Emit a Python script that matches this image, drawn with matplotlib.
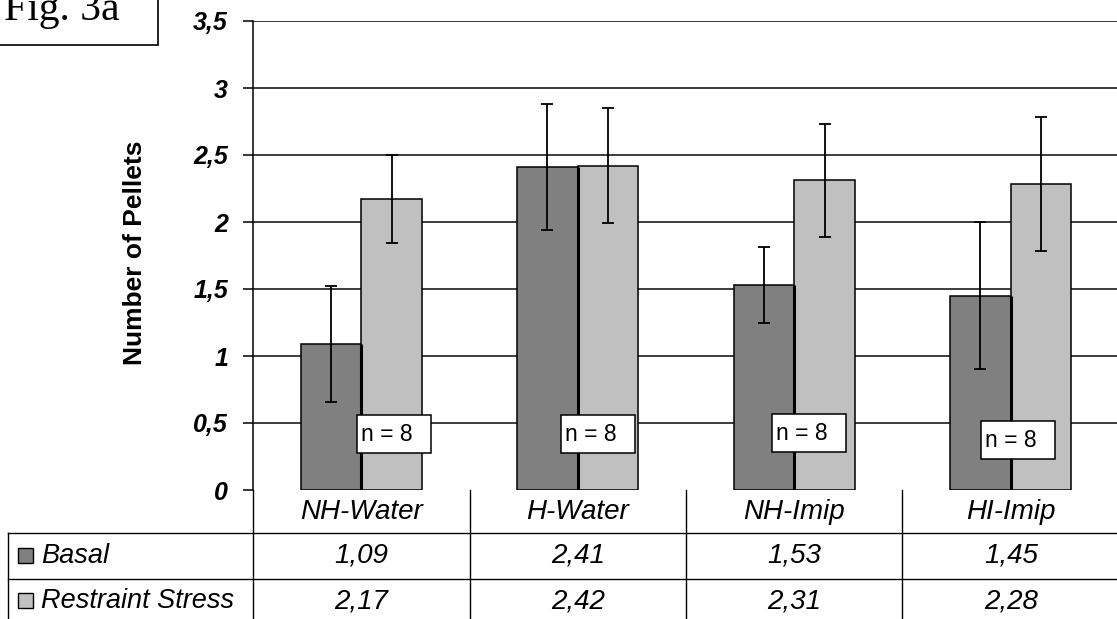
import matplotlib
matplotlib.use("Agg")
import matplotlib.pyplot as plt
from matplotlib.patches import Rectangle
from matplotlib.transforms import blended_transform_factory
import numpy as np

categories = ["NH-Water", "H-Water", "NH-Imip", "HI-Imip"]
series_names = ["Basal", "Restraint Stress"]
basal = [1.09, 2.41, 1.53, 1.45]
restraint = [2.17, 2.42, 2.31, 2.28]
basal_err = [0.43, 0.47, 0.28, 0.55]
restraint_err = [0.33, 0.43, 0.42, 0.50]
n_labels = ["n = 8", "n = 8", "n = 8", "n = 8"]
yticks = [0, 0.5, 1, 1.5, 2, 2.5, 3, 3.5]
ytick_labels = ["0", "0,5", "1", "1,5", "2", "2,5", "3", "3,5"]
basal_labels = ["1,09", "2,41", "1,53", "1,45"]
restraint_labels = ["2,17", "2,42", "2,31", "2,28"]

# annotation box placement (relative to category centre), layout only
nbox_dx = [-0.018, -0.077, -0.104, -0.137]
nbox_y = [0.275, 0.275, 0.282, 0.230]

colors = ["#808080", "#c0c0c0"]
W, H = 1117, 619
plt.rcParams['font.family'] = ['Liberation Sans', 'DejaVu Sans']

fig = plt.figure(figsize=(W / 100, H / 100), dpi=100)
fig.patch.set_facecolor("white")

x0, y0px, y1px = 253, 490, 21
unit = 216.5
ax = fig.add_axes([x0 / W, (H - y0px) / H, 4 * unit / W, (y0px - y1px) / H])
ax.set_xlim(-0.5, 3.5)
ax.set_ylim(0, 3.5)

x = np.arange(len(categories))
bw = 0.28
ax.bar(x - bw / 2, basal, bw, color=colors[0], edgecolor="black", linewidth=1.1, zorder=3)
ax.bar(x + bw / 2, restraint, bw, color=colors[1], edgecolor="black", linewidth=1.1, zorder=3)
# heavier shared edge between the paired bars
ax.vlines(x, 0, np.minimum(basal, restraint), color="black", linewidth=2.2, zorder=3.5)
ax.errorbar(x - bw / 2, basal, yerr=basal_err, fmt="none", ecolor="black",
            elinewidth=1.3, capsize=4.5, capthick=1.3, zorder=4)
ax.errorbar(x + bw / 2, restraint, yerr=restraint_err, fmt="none", ecolor="black",
            elinewidth=1.3, capsize=4.5, capthick=1.3, zorder=4)

# gridlines
for t in yticks[1:]:
    ax.axhline(t, color="#111111", linewidth=1.15, zorder=1)

for s in ["top", "right", "bottom"]:
    ax.spines[s].set_visible(False)
ax.spines["left"].set_linewidth(1.1)
ax.spines["left"].set_zorder(5)

ax.set_yticks(yticks)
ax.set_yticklabels(ytick_labels, fontsize=18, fontweight="bold", fontstyle="italic")
ax.tick_params(axis="y", direction="out", length=7, width=1.1, pad=11)
ax.set_xticks([])
ax.set_ylabel("Number of Pellets", fontsize=19, fontweight="bold")
ax.yaxis.set_label_coords(-0.122, 0.505)

# n = 8 boxes
bh = 0.282
boxw = 0.342
for i, lab in enumerate(n_labels):
    bx = x[i] + nbox_dx[i]
    ax.add_patch(Rectangle((bx, nbox_y[i]), boxw, bh, facecolor="white",
                           edgecolor="black", linewidth=1.1, zorder=6))
    ax.text(bx + 0.018, nbox_y[i] + bh / 2, lab, fontsize=16.5, ha="left", va="center", zorder=7)

# data table
def fy(py):
    return (H - py) / H

tr = blended_transform_factory(ax.transData, fig.transFigure)
trf = fig.transFigure
lw = 1.0
row_lines = [533, 579]
for py in row_lines:
    fig.add_artist(plt.Line2D([8 / W, 1.0], [fy(py), fy(py)], color="black", linewidth=lw, transform=trf))
fig.add_artist(plt.Line2D([8 / W, 8 / W], [fy(533), 0], color="black", linewidth=lw, transform=trf))
for xb in [-0.5, 0.5, 1.5, 2.5]:
    fig.add_artist(plt.Line2D([xb, xb], [fy(490), 0], color="black", linewidth=lw, transform=tr))

tfs = 20
for i, c in enumerate(categories):
    fig.text(x[i], fy(512), c, transform=tr, ha="center", va="center",
             fontsize=tfs, fontstyle="italic")
    fig.text(x[i], fy(556), basal_labels[i], transform=tr, ha="center", va="center",
             fontsize=tfs, fontstyle="italic")
    fig.text(x[i], fy(601), restraint_labels[i], transform=tr, ha="center", va="center",
             fontsize=tfs, fontstyle="italic")

for j, (name, yc) in enumerate(zip(series_names, [556, 601])):
    fig.add_artist(Rectangle((18 / W, fy(yc + 7)), 15 / W, 15 / H, facecolor=colors[j],
                             edgecolor="black", linewidth=1.0, transform=trf))
    fig.text(41 / W, fy(yc), name, transform=trf, ha="left", va="center",
             fontsize=19.5, fontstyle="italic")

# Fig. 3a label box
fig.add_artist(Rectangle((-2 / W, fy(45)), 160 / W, 50 / H, facecolor="white",
                         edgecolor="black", linewidth=1.2, transform=trf))
fig.text(4 / W, fy(20), "Fig. 3a", transform=trf, ha="left", va="baseline",
         fontsize=30, family=["Liberation Serif", "DejaVu Serif"])

fig.savefig("out.png", dpi=100, facecolor="white")
